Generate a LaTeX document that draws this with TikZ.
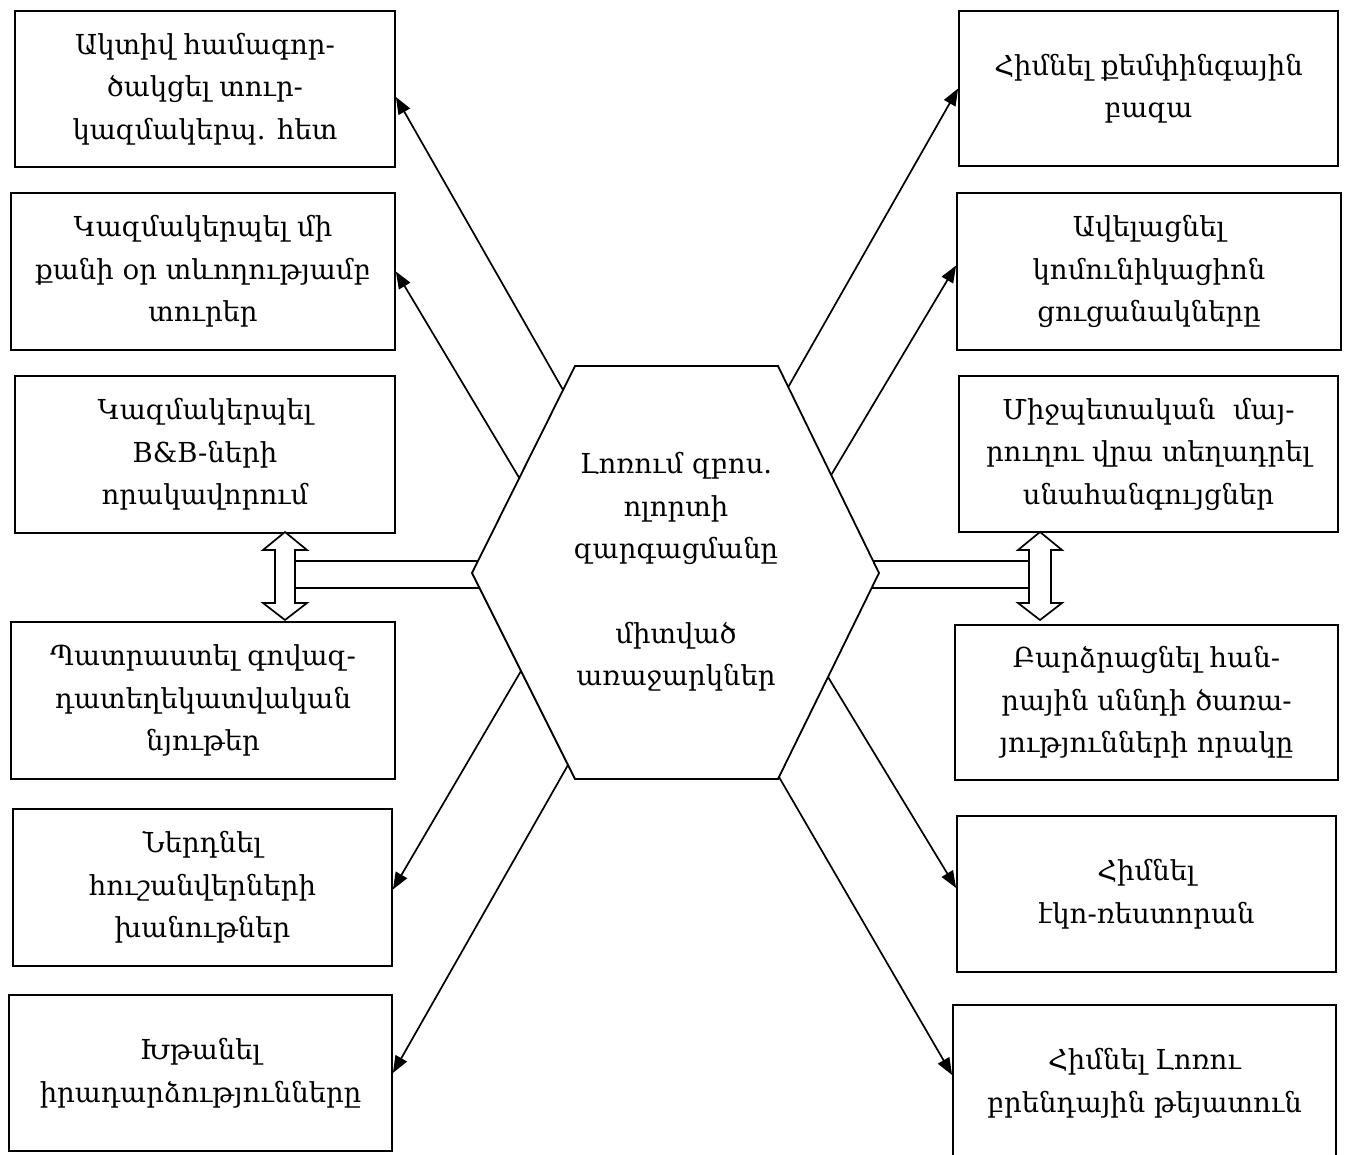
\documentclass[tikz,border=0pt]{standalone}
\usepackage{fontspec}
\setmainfont{DejaVu Serif}
\usetikzlibrary{arrows.meta,calc}
\begin{document}
\begin{tikzpicture}[x=1pt,y=-1pt,
  box/.style={draw,line width=1.8pt,align=center,inner sep=0pt,
    font=\fontsize{27.5}{42.5}\selectfont},
  arr/.style={line width=1.7pt,-{Triangle[length=17pt,width=13pt]}},
  dbl/.style={draw,line width=1.7pt,fill=white,line join=miter},
  bar/.style={line width=1.7pt}]
\useasboundingbox (0,0) rectangle (1345,1155);
% left boxes
\node[box,minimum width=380pt,minimum height=156pt] (L1) at (205,89) {Ակտիվ համագոր-\\ծակցել տուր-\\կազմակերպ. հետ};
\node[box,minimum width=384pt,minimum height=157pt] (L2) at (203,271.5) {Կազմակերպել մի\\քանի օր տևողությամբ\\տուրեր};
\node[box,minimum width=380pt,minimum height=157pt] (L3) at (205,454.5) {Կազմակերպել\\B\&B-ների\\որակավորում};
\node[box,minimum width=384pt,minimum height=157pt] (L4) at (203,700.5) {Պատրաստել գովազ-\\դատեղեկատվական\\նյութեր};
\node[box,minimum width=379pt,minimum height=157pt] (L5) at (202.5,887.5) {Ներդնել\\հուշանվերների\\խանութներ};
\node[box,minimum width=383pt,minimum height=156pt] (L6) at (200.5,1073) {Խթանել\\իրադարձությունները};
% right boxes
\node[box,minimum width=379pt,minimum height=155pt] (R1) at (1148.5,88.5) {Հիմնել քեմփինգային\\բազա};
\node[box,minimum width=384pt,minimum height=157pt] (R2) at (1149,271.5) {Ավելացնել\\կոմունիկացիոն\\ցուցանակները};
\node[box,minimum width=379pt,minimum height=156pt] (R3) at (1148.5,454) {Միջպետական\ \ մայ-\\րուղու վրա տեղադրել\\սնահանգույցներ};
\node[box,minimum width=383pt,minimum height=155pt] (R4) at (1146.5,702.5) {Բարձրացնել հան-\\րային սննդի ծառա-\\յությունների որակը};
\node[box,minimum width=379pt,minimum height=156pt] (R5) at (1146.5,894) {Հիմնել\\էկո-ռեստորան};
\node[box,minimum width=383pt,minimum height=156pt] (R6) at (1144.5,1083) {Հիմնել Լոռու\\բրենդային թեյատուն};
% hexagon
\coordinate (h1) at (575,366);
\coordinate (h2) at (778,366);
\coordinate (h3) at (879,573);
\coordinate (h4) at (778,779);
\coordinate (h5) at (575,779);
\coordinate (h6) at (472,573);
% double arrows and bars
\coordinate (lb1) at (295,561);
\coordinate (lb2) at (295,588);
\coordinate (lh1) at ($(h1)!{(561-366)/207}!(h6)$);
\coordinate (lh2) at ($(h6)!{(588-573)/206}!(h5)$);
\coordinate (rb1) at (1030,561);
\coordinate (rb2) at (1030,588);
\coordinate (rh1) at ($(h2)!{(561-366)/207}!(h3)$);
\coordinate (rh2) at ($(h3)!{(588-573)/206}!(h4)$);
\draw[bar] (lh1) -- (lb1);
\draw[bar] (lh2) -- (lb2);
\draw[bar] (rh1) -- (rb1);
\draw[bar] (rh2) -- (rb2);
\draw[dbl] (285,532) coordinate (ld) -- (307,550) -- (295,550) -- (295,603) -- (307,603) -- (285,620) -- (263,603) -- (275,603) -- (275,550) -- (263,550) -- cycle;
\draw[dbl] (1040,532) coordinate (rd) -- (1062,550) -- (1051,550) -- (1051,603) -- (1062,603) -- (1040,620) -- (1018,603) -- (1029,603) -- (1029,550) -- (1018,550) -- cycle;
\draw[line width=1.8pt,fill=white,line join=miter] (h1) -- (h2) -- (h3) -- (h4) -- (h5) -- (h6) -- cycle;
\node[align=center,font=\fontsize{27.5}{42.5}\selectfont] (hex) at (676,572) {Լոռում զբոս.\\ոլորտի\\զարգացմանը\\[42pt]միտված\\առաջարկներ};
% connector starts on the hexagon edges
\coordinate (a1) at ($(h1)!{(390-366)/207}!(h6)$);
\coordinate (a2) at ($(h1)!{(478-366)/207}!(h6)$);
\coordinate (a3) at ($(h6)!{(671-573)/206}!(h5)$);
\coordinate (a4) at ($(h6)!{(765-573)/206}!(h5)$);
\coordinate (b1) at ($(h2)!{(387-366)/207}!(h3)$);
\coordinate (b2) at ($(h2)!{(475-366)/207}!(h3)$);
\coordinate (b3) at ($(h3)!{(677-573)/206}!(h4)$);
\coordinate (b4) at ($(h3)!{(777-573)/206}!(h4)$);
\draw[arr] (a1) -- ($(L1.east)+(0,8)$);
\draw[arr] (a2) -- (L2.east);
\draw[arr] (a3) -- ($(L5.east)+(0,2)$);
\draw[arr] (a4) -- (L6.east);
\draw[arr] (b1) -- (R1.west);
\draw[arr] (b2) -- ($(R2.west)+(0,-6)$);
\draw[arr] (b3) -- ($(R5.west)+(0,-6)$);
\draw[arr] (b4) -- ($(R6.west)+(0,-8)$);
\end{tikzpicture}
\end{document}
